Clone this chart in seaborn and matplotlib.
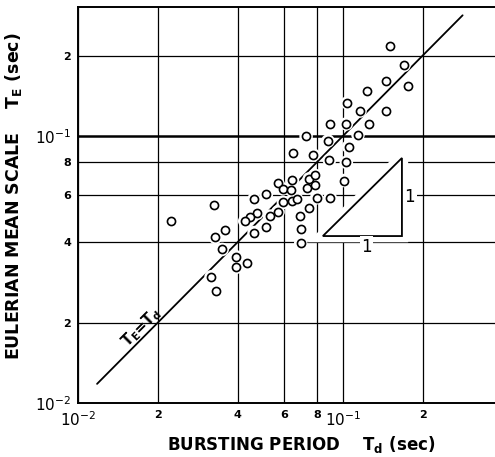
import pandas as pd
import matplotlib
matplotlib.use("Agg")
import matplotlib.pyplot as plt
import seaborn as sns
from matplotlib.patches import Polygon
from matplotlib.ticker import NullLocator

# bursting period Td (sec) and eulerian mean scale Te (sec)
td = [0.150, 0.170, 0.176, 0.145, 0.123, 0.104, 0.116, 0.146, 0.0895, 0.103,
      0.125, 0.0726, 0.0878, 0.114, 0.105, 0.065, 0.0773, 0.0889, 0.103, 0.0567,
      0.0645, 0.0746, 0.0785, 0.0592, 0.0638, 0.0729, 0.0785, 0.101, 0.0514, 0.0462,
      0.0796, 0.0895, 0.0596, 0.0644, 0.0669, 0.0743, 0.0569, 0.0529, 0.0474, 0.0444,
      0.0426, 0.0513, 0.0462, 0.069, 0.0692, 0.0693, 0.0225, 0.0327, 0.033, 0.0359,
      0.035, 0.0395, 0.0395, 0.0434, 0.0318, 0.0332]
te = [0.217, 0.184, 0.154, 0.161, 0.147, 0.133, 0.124, 0.124, 0.111, 0.111,
      0.1105, 0.0997, 0.0958, 0.101, 0.0912, 0.0866, 0.0849, 0.081, 0.0797, 0.0668,
      0.0683, 0.0691, 0.0712, 0.0634, 0.0628, 0.064, 0.0653, 0.0681, 0.0605, 0.058,
      0.0587, 0.0587, 0.0564, 0.057, 0.0579, 0.0536, 0.052, 0.0501, 0.0513, 0.0499,
      0.048, 0.0457, 0.0435, 0.0503, 0.0448, 0.0396, 0.0479, 0.0551, 0.0417, 0.0443,
      0.0376, 0.0353, 0.0322, 0.0334, 0.0297, 0.0263]

line_t = [0.0118, 0.283]          # Te = Td
tri_td = [0.084, 0.167, 0.167]    # slope 1 triangle
tri_te = [0.0422, 0.0827, 0.0422]

ticks = [0.01, 0.02, 0.04, 0.06, 0.08, 0.1, 0.2]
tick_labels = [r'$10^{-2}$', '2', '4', '6', '8', r'$10^{-1}$', '2']

df = pd.DataFrame({'Td': td, 'Te': te})

sns.set_style("white")
plt.rcParams['font.family'] = ['DejaVu Sans']
plt.rcParams['mathtext.default'] = 'regular'
plt.rcParams['text.color'] = 'black'
plt.rcParams['axes.labelcolor'] = 'black'
plt.rcParams['xtick.color'] = 'black'
plt.rcParams['ytick.color'] = 'black'

fig = plt.figure(figsize=(4.95, 4.57), dpi=100)
ax = fig.add_axes([0.1576, 0.118, 0.8424, 0.8667])

ax.set_xscale('log')
ax.set_yscale('log')
ax.set_xlim(0.01, 0.375)
ax.set_ylim(0.01, 0.304)
ax.xaxis.set_minor_locator(NullLocator())
ax.yaxis.set_minor_locator(NullLocator())
ax.set_xticks(ticks)
ax.set_yticks(ticks)
ax.set_xticklabels(tick_labels)
ax.set_yticklabels(tick_labels)
ax.tick_params(length=0, pad=5)
for lab in ax.get_xticklabels() + ax.get_yticklabels():
    if '10' in lab.get_text():
        lab.set_fontsize(11)
    else:
        lab.set_fontsize(8)
        lab.set_fontweight('bold')

# grid
ax.grid(True, color='black', lw=0.9)
ax.set_axisbelow(True)
ax.get_ygridlines()[5].set_linewidth(1.8)

# Te = Td line
ax.plot(line_t, line_t, color='black', lw=1.3, zorder=2)
ax.text(0.0174, 0.0193, r'T$_E$=T$_d$', rotation=45, fontsize=10.5,
        fontweight='bold', ha='center', va='center', zorder=5)

# white halo then hollow circles
sns.scatterplot(data=df, x='Td', y='Te', s=95, color='white', edgecolor='none',
                zorder=3, ax=ax, legend=False)
sns.scatterplot(data=df, x='Td', y='Te', s=34, color='white', edgecolor='black',
                linewidth=1.2, zorder=4, ax=ax, legend=False)

# slope triangle
pts = list(zip(tri_td, tri_te))
ax.add_patch(Polygon(pts, closed=True, facecolor='white', edgecolor='white', lw=9, zorder=3))
ax.add_patch(Polygon(pts, closed=True, facecolor='white', edgecolor='black', lw=1.3, zorder=4))
ax.text(0.179, 0.0593, '1', fontsize=12, ha='center', va='center', zorder=5,
        bbox=dict(facecolor='white', edgecolor='none', pad=1))
ax.text(0.1229, 0.0385, '1', fontsize=12, ha='center', va='center', zorder=5,
        bbox=dict(facecolor='white', edgecolor='none', pad=1))

for s in ['left', 'bottom', 'top']:
    ax.spines[s].set_linewidth(1.4)
    ax.spines[s].set_color('black')
    ax.spines[s].set_zorder(6)
ax.spines['right'].set_visible(False)

ax.set_xlabel(r'BURSTING PERIOD    T$_d$ (sec)', fontsize=12, fontweight='bold')
ax.set_ylabel(r'EULERIAN MEAN SCALE    T$_E$ (sec)', fontsize=12.5, fontweight='bold')
ax.xaxis.set_label_coords(0.534, -0.078)
ax.yaxis.set_label_coords(-0.13, 0.523)

fig.savefig('out.png', dpi=100)
